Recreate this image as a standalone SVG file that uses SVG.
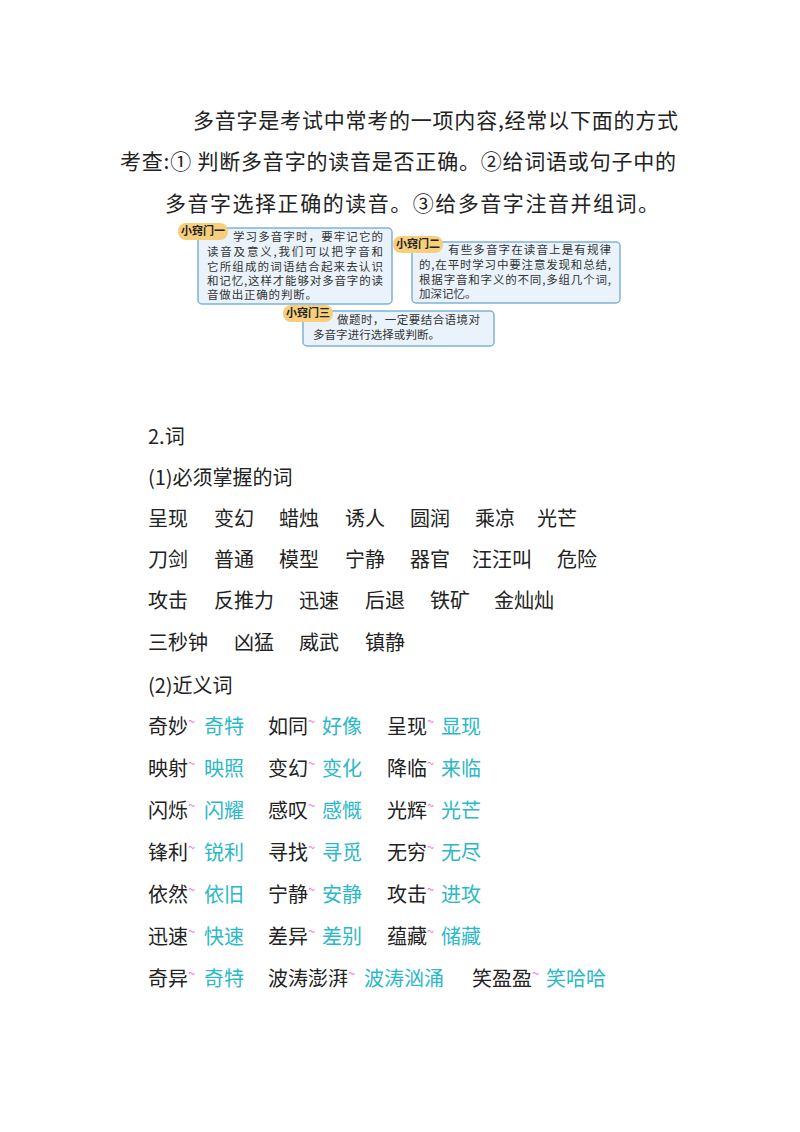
<svg xmlns="http://www.w3.org/2000/svg" width="800" height="1132" viewBox="0 0 800 1132">
<style>
text{font-family:"Noto Sans CJK SC","Liberation Serif",serif;fill:#222}
.m{font-size:21px}
.s{font-size:11.5px;fill:#333}
.l{font-size:11px;font-weight:bold;fill:#222}
.w{font-size:20px}
.c{fill:#2bb8c8}
.t{font-size:13px;fill:#f07ad8}
.box{fill:#eaf3fb;stroke:#7fb2d8;stroke-width:1.5}
.pill{fill:#f7cf7a}
</style>
<rect width="800" height="1132" fill="#fff"/>
<g id="intro">
<text class="m" x="193" y="128" textLength="485" lengthAdjust="spacing">多音字是考试中常考的一项内容,经常以下面的方式</text>
<text class="m" x="120" y="169" textLength="556" lengthAdjust="spacing">考查:① 判断多音字的读音是否正确。②给词语或句子中的</text>
<text class="m" x="165" y="211" textLength="494" lengthAdjust="spacing">多音字选择正确的读音。③给多音字注音并组词。</text>
</g>
<g id="tip1">
<rect class="box" x="198" y="228" width="194" height="76" rx="4"/>
<rect class="pill" x="178" y="223" width="50" height="17" rx="8"/>
<text class="l" x="181" y="235">小窍门一</text>
<text class="s" x="233" y="241" textLength="150" lengthAdjust="spacing">学习多音字时，要牢记它的</text>
<text class="s" x="207" y="256" textLength="176" lengthAdjust="spacing">读音及意义,我们可以把字音和</text>
<text class="s" x="207" y="271" textLength="176" lengthAdjust="spacing">它所组成的词语结合起来去认识</text>
<text class="s" x="207" y="285" textLength="176" lengthAdjust="spacing">和记忆,这样才能够对多音字的读</text>
<text class="s" x="207" y="299" textLength="110" lengthAdjust="spacing">音做出正确的判断。</text>
</g>
<g id="tip2">
<rect class="box" x="412" y="242" width="208" height="61" rx="4"/>
<rect class="pill" x="393" y="236" width="50" height="17" rx="8"/>
<text class="l" x="396" y="248">小窍门二</text>
<text class="s" x="448" y="254" textLength="163" lengthAdjust="spacing">有些多音字在读音上是有规律</text>
<text class="s" x="419" y="269" textLength="192" lengthAdjust="spacing">的,在平时学习中要注意发现和总结,</text>
<text class="s" x="419" y="284" textLength="192" lengthAdjust="spacing">根据字音和字义的不同,多组几个词,</text>
<text class="s" x="419" y="298">加深记忆。</text>
</g>
<g id="tip3">
<rect class="box" x="303" y="311" width="191" height="35" rx="4"/>
<rect class="pill" x="283" y="305" width="50" height="17" rx="8"/>
<text class="l" x="286" y="317">小窍门三</text>
<text class="s" x="337" y="324" textLength="143" lengthAdjust="spacing">做题时，一定要结合语境对</text>
<text class="s" x="313" y="339" textLength="127" lengthAdjust="spacing">多音字进行选择或判断。</text>
</g>
<g id="words" class="w">
<text class="w" x="148" y="444">2.词</text>
<text class="w" x="148" y="485">(1)必须掌握的词</text>
<text class="w" y="526"><tspan x="148">呈现</tspan><tspan x="214">变幻</tspan><tspan x="279">蜡烛</tspan><tspan x="345">诱人</tspan><tspan x="410">圆润</tspan><tspan x="475">乘凉</tspan><tspan x="537">光芒</tspan></text>
<text class="w" y="567"><tspan x="148">刀剑</tspan><tspan x="214">普通</tspan><tspan x="279">模型</tspan><tspan x="345">宁静</tspan><tspan x="410">器官</tspan><tspan x="472">汪汪叫</tspan><tspan x="557">危险</tspan></text>
<text class="w" y="608"><tspan x="148">攻击</tspan><tspan x="214">反推力</tspan><tspan x="299">迅速</tspan><tspan x="365">后退</tspan><tspan x="430">铁矿</tspan><tspan x="494">金灿灿</tspan></text>
<text class="w" y="650"><tspan x="148">三秒钟</tspan><tspan x="234">凶猛</tspan><tspan x="299">威武</tspan><tspan x="365">镇静</tspan></text>
<text class="w" x="148" y="693">(2)近义词</text>
</g>
<g id="synonyms">
<text class="w" y="734"><tspan x="148">奇妙</tspan><tspan class="t" dy="-8">~</tspan><tspan class="c" x="204" dy="8">奇特</tspan><tspan x="268">如同</tspan><tspan class="t" dy="-8">~</tspan><tspan class="c" x="322" dy="8">好像</tspan><tspan x="387">呈现</tspan><tspan class="t" dy="-8">~</tspan><tspan class="c" x="441" dy="8">显现</tspan></text>
<text class="w" y="776"><tspan x="148">映射</tspan><tspan class="t" dy="-8">~</tspan><tspan class="c" x="204" dy="8">映照</tspan><tspan x="268">变幻</tspan><tspan class="t" dy="-8">~</tspan><tspan class="c" x="322" dy="8">变化</tspan><tspan x="387">降临</tspan><tspan class="t" dy="-8">~</tspan><tspan class="c" x="441" dy="8">来临</tspan></text>
<text class="w" y="818"><tspan x="148">闪烁</tspan><tspan class="t" dy="-8">~</tspan><tspan class="c" x="204" dy="8">闪耀</tspan><tspan x="268">感叹</tspan><tspan class="t" dy="-8">~</tspan><tspan class="c" x="322" dy="8">感慨</tspan><tspan x="387">光辉</tspan><tspan class="t" dy="-8">~</tspan><tspan class="c" x="441" dy="8">光芒</tspan></text>
<text class="w" y="860"><tspan x="148">锋利</tspan><tspan class="t" dy="-8">~</tspan><tspan class="c" x="204" dy="8">锐利</tspan><tspan x="268">寻找</tspan><tspan class="t" dy="-8">~</tspan><tspan class="c" x="322" dy="8">寻觅</tspan><tspan x="387">无穷</tspan><tspan class="t" dy="-8">~</tspan><tspan class="c" x="441" dy="8">无尽</tspan></text>
<text class="w" y="902"><tspan x="148">依然</tspan><tspan class="t" dy="-8">~</tspan><tspan class="c" x="204" dy="8">依旧</tspan><tspan x="268">宁静</tspan><tspan class="t" dy="-8">~</tspan><tspan class="c" x="322" dy="8">安静</tspan><tspan x="387">攻击</tspan><tspan class="t" dy="-8">~</tspan><tspan class="c" x="441" dy="8">进攻</tspan></text>
<text class="w" y="944"><tspan x="148">迅速</tspan><tspan class="t" dy="-8">~</tspan><tspan class="c" x="204" dy="8">快速</tspan><tspan x="268">差异</tspan><tspan class="t" dy="-8">~</tspan><tspan class="c" x="322" dy="8">差别</tspan><tspan x="387">蕴藏</tspan><tspan class="t" dy="-8">~</tspan><tspan class="c" x="441" dy="8">储藏</tspan></text>
<text class="w" y="986"><tspan x="148">奇异</tspan><tspan class="t" dy="-8">~</tspan><tspan class="c" x="204" dy="8">奇特</tspan><tspan x="268">波涛澎湃</tspan><tspan class="t" dy="-8">~</tspan><tspan class="c" x="364" dy="8">波涛汹涌</tspan><tspan x="472">笑盈盈</tspan><tspan class="t" dy="-8">~</tspan><tspan class="c" x="546" dy="8">笑哈哈</tspan></text>
</g>
</svg>
